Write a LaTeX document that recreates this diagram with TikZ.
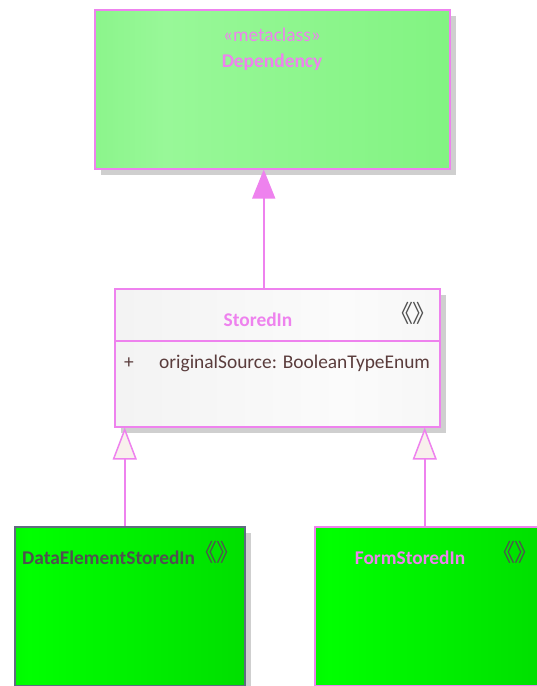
\documentclass[tikz,border=0pt]{standalone}
\usepackage{fontspec}
\setmainfont{Carlito}
\newfontfamily\cjk{Noto Sans CJK SC}
\usetikzlibrary{arrows.meta,shadows}
\definecolor{pinkc}{HTML}{EE82EE}
\definecolor{depA}{HTML}{6CEC6C}
\definecolor{depB}{HTML}{98F898}
\definecolor{depC}{HTML}{74F074}
\definecolor{stA}{HTML}{EDEDED}
\definecolor{stB}{HTML}{FBFBFB}
\definecolor{stC}{HTML}{F0F0F0}
\definecolor{grA}{HTML}{00D400}
\definecolor{grB}{HTML}{00FF00}
\definecolor{grC}{HTML}{00CE00}
\definecolor{greyb}{HTML}{5F6B80}
\definecolor{darkt}{HTML}{505050}
\definecolor{attrc}{HTML}{5A3C3C}
\definecolor{trif}{HTML}{F8F0EC}
\definecolor{shad}{HTML}{CFCFCF}
\pgfdeclarehorizontalshading{depsh}{100bp}{color(0bp)=(depA); color(35bp)=(depB); color(100bp)=(depC)}
\pgfdeclarehorizontalshading{stsh}{100bp}{color(0bp)=(stA); color(60bp)=(stB); color(100bp)=(stC)}
\pgfdeclarehorizontalshading{grsh}{100bp}{color(0bp)=(grA); color(28bp)=(grB); color(100bp)=(grC)}
\newcommand{\guilpair}{\kern-0.42em《\kern-0.05em》\kern-0.42em}
\tikzset{
  boxbase/.style={rectangle, anchor=north west, inner sep=0pt, line width=1.5pt,
    drop shadow={shadow xshift=6pt, shadow yshift=-6pt, fill=shad, opacity=1}},
  depbox/.style={boxbase, draw=pinkc, shading=depsh},
  stbox/.style={boxbase, draw=pinkc, shading=stsh},
  grbox/.style={boxbase, shading=grsh},
  txt/.style={inner sep=0pt, font=\fontsize{19.4}{23}\selectfont},
  btxt/.style={txt, font=\fontsize{19.4}{23}\selectfont\bfseries},
  guil/.style={inner sep=0pt, text=darkt, font=\fontsize{24}{27}\cjk},
  conn/.style={draw=pinkc, line width=1.5pt},
}
\begin{document}
\begin{tikzpicture}[x=1pt,y=-1pt]
\useasboundingbox (0,0) rectangle (537,686);
\begin{scope}
\clip (0,0) rectangle (537,686);
% boxes
\node[depbox, minimum width=355pt, minimum height=159pt] (dep) at (94,9) {};
\node[stbox, minimum width=325pt, minimum height=138pt] (st) at (114,288) {};
\node[grbox, draw=greyb, minimum width=230pt, minimum height=159pt] (de) at (14,526) {};
\node[grbox, draw=pinkc, minimum width=230pt, minimum height=159pt] (fm) at (314,526) {};
\end{scope}
% divider
\draw[conn] (st.west |- 0,341) coordinate (dl) -- (st.east |- 0,341) coordinate (dr);
% texts
\node[txt, text=pinkc] (meta) at (272,35) {«metaclass»};
\node[btxt, text=pinkc] (depname) at (272,62) {Dependency};
\node[btxt, text=pinkc] (stname) at (258,320) {StoredIn};
\node[guil] (stg) at (413,313) {\guilpair};
\node[txt, text=attrc] (plus) at (129,363) {+};
\node[txt, text=attrc, anchor=west] (attr) at (159,363) {originalSource: BooleanTypeEnum};
\node[btxt, text=darkt, anchor=west] (dename) at (22,558) {DataElementStoredIn};
\node[guil] (deg) at (217,552) {\guilpair};
\node[btxt, text=pinkc] (fmname) at (410,558) {FormStoredIn};
\node[guil] (fmg) at (515,552) {\guilpair};
% connectors
\draw[conn, -{Triangle[width=23pt,length=29pt,fill=pinkc]}] ([xshift=-8.5pt]dep.south |- st.north) -- ([xshift=-8.5pt]dep.south);
\draw[conn, -{Triangle[width=24pt,length=32pt,fill=trif]}] ([xshift=-5pt]de.north) -- ([xshift=-5pt]de.north |- st.south);
\draw[conn, -{Triangle[width=24pt,length=32pt,fill=trif]}] ([xshift=-5pt]fm.north) -- ([xshift=-5pt]fm.north |- st.south);
\end{tikzpicture}
\end{document}
